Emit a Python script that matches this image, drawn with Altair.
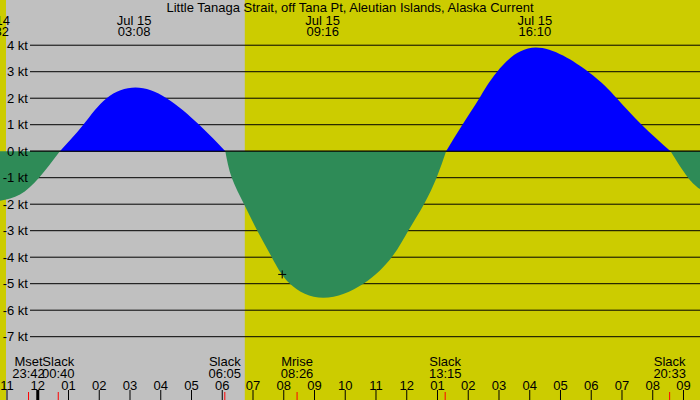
import altair as alt
import pandas as pd

# ---------------- data ----------------
title_text = "Little Tanaga Strait, off Tana Pt, Aleutian Islands, Alaska Current"

# tidal current (kt) vs hours after midnight Jul 15
curve_t = [-1.228, -0.577, 0.041, 0.72,
           1.48, 2.24, 3.18, 4.19, 5.25, 6.10,
           6.31, 6.71, 7.14, 7.61, 8.20, 9.29, 10.59, 11.51, 12.05, 12.56, 12.97, 13.28,
           13.81, 14.36, 14.94, 16.20, 17.90, 18.83, 19.64, 20.58,
           21.15, 21.537]
curve_v = [-1.87, -1.63, -1.0, 0.0,
           1.0, 2.0, 2.4, 2.0, 1.0, 0.0,
           -1.0, -2.0, -3.0, -4.0, -5.0, -5.53, -5.0, -4.0, -3.0, -2.0, -1.0, 0.0,
           1.0, 2.0, 3.0, 3.91, 3.0, 2.0, 1.0, 0.0,
           -1.0, -1.43]

kt_levels = [4, 3, 2, 1, 0, -1, -2, -3, -4, -5, -6, -7]

hour_labels = ["11", "12", "01", "02", "03", "04", "05", "06", "07", "08", "09", "10",
               "11", "12", "01", "02", "03", "04", "05", "06", "07", "08", "09"]
hour_t = list(range(-1, 22))

event_names = ["Mset", "Slack", "Slack", "Mrise", "Slack", "Slack"]
event_times = ["23:42", "00:40", "06:05", "08:26", "13:15", "20:33"]
event_prev_day = [True, False, False, False, False, False]

peak_dates = ["Jul 14", "Jul 15", "Jul 15", "Jul 15"]
peak_times = ["22:32", "03:08", "09:16", "16:10"]
peak_prev_day = [True, False, False, False]

night_start, night_start_prev = "22:58", True
night_end, night_end_prev = "06:44", False

now_time = "07:57"
now_value = -4.65

X0, X1 = -1.228, 21.537
Y0, Y1 = -9.389, 5.706


def hrs(s, prev=False):
    h, m = s.split(":")
    v = int(h) + int(m) / 60.0
    return v - 24 if prev else v


# ---------------- frames ----------------
# split the curve into lobes between slack (zero) points
rows = []
lobe = 0
seg = []
for t, v in zip(curve_t, curve_v):
    seg.append((t, v))
    if v == 0 and len(seg) > 1:
        sgn = "pos" if sum(p[1] for p in seg) > 0 else "neg"
        rows += [{"t": a, "v": b, "lobe": lobe, "sign": sgn} for a, b in seg]
        lobe += 1
        seg = [(t, v)]
if len(seg) > 1:
    sgn = "pos" if sum(p[1] for p in seg) > 0 else "neg"
    rows += [{"t": a, "v": b, "lobe": lobe, "sign": sgn} for a, b in seg]
curve_df = pd.DataFrame(rows)

kt_df = pd.DataFrame({"v": kt_levels, "label": [f"{k} kt" for k in kt_levels]})
hour_df = pd.DataFrame({"t": hour_t, "label": hour_labels})
event_df = pd.DataFrame({
    "t": [hrs(s, p) for s, p in zip(event_times, event_prev_day)],
    "name": event_names, "time": event_times})
peak_df = pd.DataFrame({
    "t": [hrs(s, p) for s, p in zip(peak_times, peak_prev_day)],
    "date": peak_dates, "time": peak_times})
night_df = pd.DataFrame({"t1": [hrs(night_start, night_start_prev)],
                         "t2": [hrs(night_end, night_end_prev)]})
now_df = pd.DataFrame({"t": [hrs(now_time)], "v": [now_value]})

xs = alt.Scale(domain=[X0, X1], zero=False, nice=False)
ys = alt.Scale(domain=[Y0, Y1], zero=False, nice=False)
FONT = "Liberation Sans"
FS = 13

night = alt.Chart(night_df).mark_rect(color="#c0c0c0").encode(
    x=alt.X("t1:Q", scale=xs, axis=None), x2="t2:Q",
    y=alt.value(0), y2=alt.value(400))

grid = alt.Chart(kt_df).mark_rule(color="black", strokeWidth=1).encode(
    y=alt.Y("v:Q", scale=ys, axis=None), x=alt.value(30), x2=alt.value(700))

areas = alt.Chart(curve_df).mark_area(interpolate="natural", clip=True).encode(
    x=alt.X("t:Q", scale=xs, axis=None),
    y=alt.Y("v:Q", scale=ys, axis=None, stack=None), y2=alt.datum(0),
    color=alt.Color("sign:N", scale=alt.Scale(domain=["pos", "neg"],
                                              range=["#0000ff", "#2e8b57"]), legend=None),
    detail="lobe:N")

zero_line = alt.Chart(kt_df).transform_filter("datum.v == 0").mark_rule(
    color="black", strokeWidth=1).encode(
    y=alt.Y("v:Q", scale=ys, axis=None), x=alt.value(30), x2=alt.value(700))

kt_text = alt.Chart(kt_df).mark_text(align="right", baseline="alphabetic", dy=4.5,
                                      font=FONT, fontSize=FS, color="black").encode(
    y=alt.Y("v:Q", scale=ys, axis=None), x=alt.value(28), text="label:N")

title = alt.Chart(pd.DataFrame({"s": [title_text]})).mark_text(
    align="center", baseline="alphabetic", font=FONT, fontSize=FS, color="black").encode(
    x=alt.value(350), y=alt.value(11.5), text="s:N")

peak_date = alt.Chart(peak_df).mark_text(align="center", baseline="alphabetic",
                                         font=FONT, fontSize=FS, color="black").encode(
    x=alt.X("t:Q", scale=xs, axis=None), y=alt.value(24.5), text="date:N")
peak_time = alt.Chart(peak_df).mark_text(align="center", baseline="alphabetic",
                                         font=FONT, fontSize=FS, color="black").encode(
    x=alt.X("t:Q", scale=xs, axis=None), y=alt.value(36), text="time:N")

ev_name = alt.Chart(event_df).mark_text(align="center", baseline="alphabetic",
                                        font=FONT, fontSize=FS, color="black").encode(
    x=alt.X("t:Q", scale=xs, axis=None), y=alt.value(366), text="name:N")
ev_time = alt.Chart(event_df).mark_text(align="center", baseline="alphabetic",
                                        font=FONT, fontSize=FS, color="black").encode(
    x=alt.X("t:Q", scale=xs, axis=None), y=alt.value(378), text="time:N")

hour_text = alt.Chart(hour_df).mark_text(align="center", baseline="alphabetic",
                                         font=FONT, fontSize=FS, color="black").encode(
    x=alt.X("t:Q", scale=xs, axis=None), y=alt.value(389.5), text="label:N")

hour_ticks = alt.Chart(hour_df).mark_rule(color="black").encode(
    x=alt.X("t:Q", scale=xs, axis=None), y=alt.value(390), y2=alt.value(400),
    strokeWidth=alt.condition("datum.t == 0", alt.value(3), alt.value(1)))

ev_ticks = alt.Chart(event_df).mark_rule(color="red", strokeWidth=1).encode(
    x=alt.X("t:Q", scale=xs, axis=None), y=alt.value(392), y2=alt.value(400))

now_mark = alt.Chart(now_df).mark_point(
    shape="M-1,0L1,0M0,-1L0,1", size=64, stroke="black", strokeWidth=1, filled=False,
    opacity=1).encode(
    x=alt.X("t:Q", scale=xs, axis=None), y=alt.Y("v:Q", scale=ys, axis=None))

chart = alt.layer(
    night, grid, areas, zero_line, kt_text, title, peak_date, peak_time,
    ev_name, ev_time, hour_text, hour_ticks, ev_ticks, now_mark
).properties(
    width=700, height=400, padding=0, autosize=alt.AutoSizeParams(type="none"),
    background="#cccc00"
).configure_view(stroke=None, fill="#cccc00")

chart.save("out.html", embed_options={"renderer": "svg", "actions": False})
